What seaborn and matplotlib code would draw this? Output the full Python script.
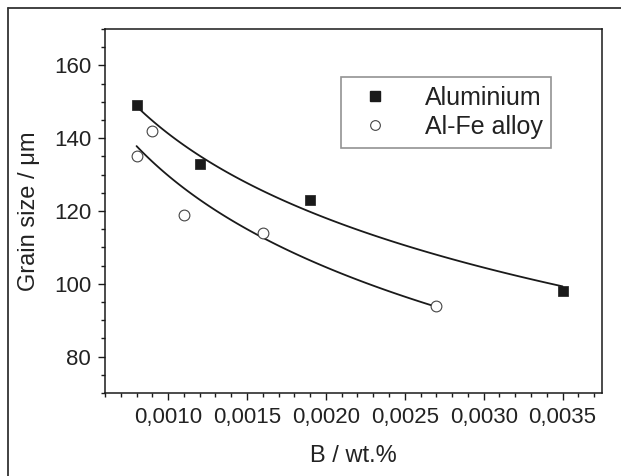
import numpy as np
import pandas as pd
import seaborn as sns
import matplotlib
matplotlib.use("Agg")
from matplotlib import pyplot as plt
from matplotlib.ticker import MultipleLocator, FuncFormatter
from matplotlib.lines import Line2D

# data
al_b = [0.0008, 0.0012, 0.0019, 0.0035]
al_size = [149, 133, 123, 98]
alfe_b = [0.0008, 0.0009, 0.0011, 0.0016, 0.0027]
alfe_size = [135, 142, 119, 114, 94]

sns.set_style("ticks")
plt.rcParams['font.family'] = ['Liberation Sans', 'DejaVu Sans']

al = pd.DataFrame({"b": al_b, "size": al_size})
alfe = pd.DataFrame({"b": alfe_b, "size": alfe_size})

fig = plt.figure(figsize=(6.21, 4.76), dpi=100)
ax = fig.add_axes([105/621, 1-393/476, (602-105)/621, (393-29)/476])

ink = "#1a1a1a"
# fitted curves (log fit through the library)
sns.regplot(data=al, x="b", y="size", logx=True, ci=None, scatter=False,
            line_kws={"color": ink, "lw": 1.3}, ax=ax)
sns.regplot(data=alfe, x="b", y="size", logx=True, ci=None, scatter=False,
            line_kws={"color": ink, "lw": 1.3}, ax=ax)
# points
sns.scatterplot(data=al, x="b", y="size", marker="s", s=60, color=ink,
                edgecolor=ink, linewidth=0.5, ax=ax, zorder=3)
sns.scatterplot(data=alfe, x="b", y="size", marker="o", s=60, facecolor="white",
                edgecolor="#444444", linewidth=0.8, ax=ax, zorder=3)

ax.set_xlim(0.0006, 0.00375)
ax.set_ylim(70, 170)
ax.xaxis.set_major_locator(MultipleLocator(0.0005))
ax.xaxis.set_minor_locator(MultipleLocator(0.0001))
ax.yaxis.set_major_locator(MultipleLocator(20))
ax.yaxis.set_minor_locator(MultipleLocator(5))
ax.set_xticks([0.0010, 0.0015, 0.0020, 0.0025, 0.0030, 0.0035])
ax.xaxis.set_major_formatter(FuncFormatter(lambda v, p: ("%.4f" % v).replace(".", ",")))
ax.set_yticks([80, 100, 120, 140, 160])
ax.tick_params(which="major", direction="out", length=5, width=1, labelsize=16,
               color=ink, labelcolor="#222222", pad=5)
ax.tick_params(which="minor", direction="out", length=3, width=1, color=ink)
for sp in ax.spines.values():
    sp.set_visible(True)
    sp.set_linewidth(1.1)
    sp.set_color(ink)

ax.set_xlabel("B / wt.%", fontsize=17, color="#222222", labelpad=12)
ax.set_ylabel("Grain size / \u03bcm", fontsize=17, color="#222222", labelpad=10)

handles = [
    Line2D([], [], marker="s", ls="none", color=ink, markersize=7),
    Line2D([], [], marker="o", ls="none", markerfacecolor="white",
           markeredgecolor="#444444", markersize=7, markeredgewidth=0.8),
]
leg = ax.legend(handles, ["Aluminium", "Al-Fe alloy"], loc="upper left",
                bbox_to_anchor=((341-105)/497, 1-(77-29)/364), fontsize=18,
                frameon=True, fancybox=False, borderpad=0.35, handletextpad=1.0,
                labelspacing=0.2, borderaxespad=0)
leg.get_frame().set_edgecolor("#777777")
leg.get_frame().set_linewidth(1.2)
for t in leg.get_texts():
    t.set_color("#222222")

# outer frame lines (top and left)
fig.add_artist(Line2D([8/621, 1], [1-8/476, 1-8/476], color="#333333", lw=1.3))
fig.add_artist(Line2D([8/621, 8/621], [0, 1-8/476], color="#333333", lw=1.3))

fig.savefig("out.png", dpi=100)
